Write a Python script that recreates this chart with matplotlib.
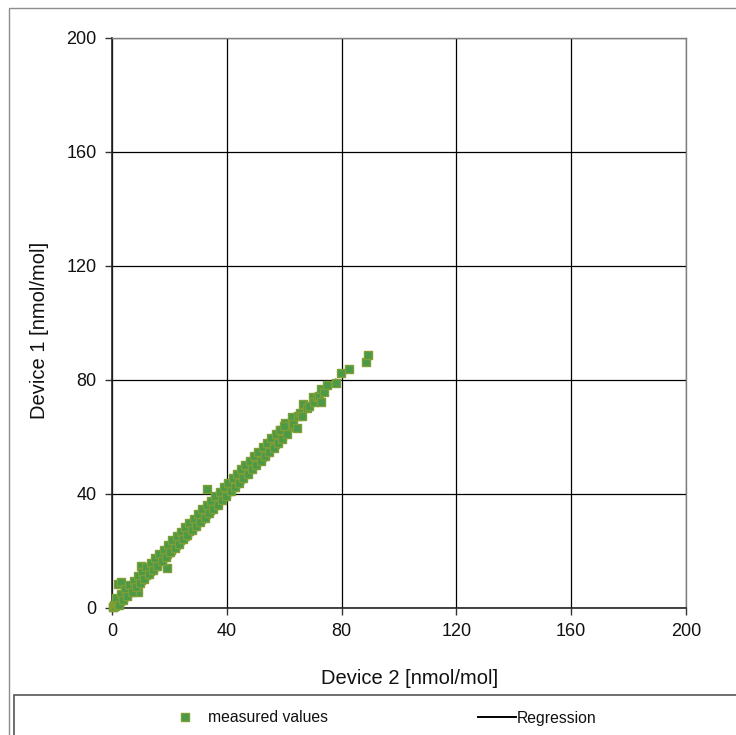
import numpy as np
import matplotlib
matplotlib.use("Agg")
import matplotlib.pyplot as plt
from matplotlib.patches import Rectangle
from matplotlib.lines import Line2D

plt.rcParams['font.family'] = ['Liberation Sans', 'DejaVu Sans']

# Device 2 (x) and Device 1 (y) values in nmol/mol
device2 = [0.2, 0.5, 0.8, 1.0, 1.3, 1.6, 2.0, 2.2, 2.5, 2.8, 3.1, 3.4, 3.7, 4.0, 4.3, 4.6, 5.0, 5.3, 5.6, 6.0,
           6.3, 6.6, 7.0, 7.3, 7.7, 8.0, 8.4, 8.8, 9.1, 9.5, 9.9,
           2.2, 3.0, 9.2, 10.1, 19.0, 33.0,
           10.2, 10.6, 11.0, 11.4, 11.8, 12.2, 12.6, 13.0, 13.4, 13.8, 14.2, 14.6, 15.0, 15.4, 15.8, 16.2, 16.6,
           17.0, 17.4, 17.8, 18.2, 18.6, 19.0, 19.4, 19.8,
           20.2, 20.6, 21.0, 21.4, 21.8, 22.2, 22.6, 23.0, 23.4, 23.8, 24.2, 24.6, 25.0, 25.4, 25.8, 26.2, 26.6,
           27.0, 27.4, 27.8, 28.2, 28.6, 29.0, 29.4, 29.8,
           30.2, 30.6, 31.0, 31.4, 31.8, 32.2, 32.6, 33.0, 33.4, 33.8, 34.2, 34.6, 35.0, 35.4, 35.8, 36.2, 36.6,
           37.0, 37.4, 37.8, 38.2, 38.6, 39.0, 39.4, 39.8,
           40.2, 40.6, 41.0, 41.4, 41.8, 42.2, 42.6, 43.0, 43.4, 43.8, 44.2, 44.6, 45.0, 45.4, 45.8, 46.2, 46.6,
           47.0, 47.4, 47.8, 48.2, 48.6, 49.0, 49.4, 49.8,
           50.3, 50.8, 51.3, 51.8, 52.3, 52.8, 53.3, 53.9, 54.4, 55.0, 55.6, 56.2, 56.8, 57.4, 58.0, 58.5, 59.2,
           60.3, 60.8, 61.5,
           62.6, 63.2, 64.4, 64.8, 65.5, 66.2, 66.7, 67.8, 68.8, 69.9, 70.5, 71.3, 72.0, 72.9, 72.9, 74.0, 75.0,
           78.0, 79.9, 82.7, 88.5, 89.2,
           1.5, 3.0, 4.5, 6.0, 7.5, 9.0, 10.5, 12.0, 13.5, 15.0, 16.5, 18.0, 19.5, 21.0, 22.5, 24.0, 25.5, 27.0,
           28.5, 30.0, 31.5, 33.0, 34.5, 36.0, 37.5, 39.0, 40.5, 42.0, 43.5, 45.0, 46.5, 48.0, 49.5, 51.0, 52.5,
           54.0, 55.5, 57.0, 58.5, 60.0,
           2.3, 3.8, 5.3, 6.8, 8.3, 9.8, 11.3, 12.8, 14.3, 15.8, 17.3, 18.8, 20.3, 21.8, 23.3, 24.8, 26.3, 27.8,
           29.3, 30.8, 32.3, 33.8, 35.3, 36.8, 38.3, 39.8, 41.3, 42.8, 44.3, 45.8, 47.3, 48.8, 50.3, 51.8, 53.3,
           54.8, 56.3, 57.8, 59.3, 61.0]
device1 = [0.3, 0.4, 1.0, 0.7, 1.6, 1.4, 2.3, 1.8, 2.9, 2.5, 3.4, 3.0, 4.1, 3.7, 4.6, 4.2, 5.3, 4.9, 6.0, 5.5,
           6.7, 6.2, 7.4, 6.9, 8.1, 7.6, 8.8, 8.3, 9.6, 9.0, 10.3,
           8.3, 9.0, 5.7, 14.6, 14.0, 41.6,
           10.0, 11.2, 10.8, 12.0, 11.6, 12.8, 12.3, 13.6, 13.1, 14.4, 13.9, 15.2, 14.8, 16.1, 15.6, 16.9, 16.4,
           17.7, 17.2, 18.6, 18.0, 19.4, 18.9, 20.2, 19.6,
           21.0, 20.5, 21.9, 21.3, 22.7, 22.1, 23.5, 22.9, 24.4, 23.7, 25.2, 24.5, 26.1, 25.3, 26.9, 26.2, 27.8,
           27.0, 28.6, 27.9, 29.5, 28.7, 30.3, 29.6, 31.1,
           30.4, 32.0, 31.2, 32.8, 32.1, 33.6, 32.9, 34.5, 33.7, 35.3, 34.5, 36.1, 35.4, 37.0, 36.2, 37.8, 37.0,
           38.7, 37.8, 39.5, 38.7, 40.3, 39.5, 41.2, 40.3,
           42.0, 41.1, 42.9, 41.9, 43.7, 42.8, 44.6, 43.6, 45.4, 44.4, 46.3, 45.2, 47.1, 46.1, 48.0, 46.9, 48.8,
           47.7, 49.6, 48.6, 50.4, 49.4, 51.3, 50.2, 52.1,
           51.3, 53.1, 52.2, 54.2, 53.1, 55.2, 54.1, 56.6, 55.3, 57.6, 56.5, 58.8, 57.7, 58.9, 60.5, 62.5, 60.4,
           64.8, 62.0, 63.6,
           66.9, 64.5, 63.1, 67.2, 68.3, 67.5, 71.6, 70.2, 71.0, 74.1, 72.4, 73.9, 74.5, 76.7, 72.3, 75.9, 78.2,
           79.1, 82.6, 83.8, 86.4, 88.8,
           3.4, 4.9, 6.5, 8.1, 9.6, 11.2, 12.7, 14.3, 15.9, 17.4, 19.0, 20.5, 22.1, 23.7, 25.2, 26.8, 28.3, 29.9,
           31.4, 33.0, 34.6, 36.1, 37.7, 39.2, 40.8, 42.4, 43.9, 45.5, 47.0, 48.6, 50.2, 51.7, 53.3, 54.8, 56.4,
           57.9, 59.5, 61.1, 62.5, 63.9,
           1.1, 2.7, 4.2, 5.7, 7.3, 8.8, 10.3, 11.9, 13.4, 14.9, 16.4, 18.0, 19.5, 21.0, 22.6, 24.1, 25.6, 27.2,
           28.7, 30.2, 31.7, 33.3, 34.8, 36.3, 37.9, 39.4, 40.9, 42.5, 44.0, 45.5, 47.0, 48.6, 50.1, 51.6, 53.2,
           54.7, 56.2, 57.8, 59.3, 61.0]

x_ticks = [0, 40, 80, 120, 160, 200]
y_ticks = [0, 40, 80, 120, 160, 200]

fig = plt.figure(figsize=(7.36, 7.35), dpi=100)
W, H = 736, 735

# outer frame
fig.patches.append(Rectangle((9 / W, -0.05), 2.0, 1 - 8 / H + 0.05, transform=fig.transFigure,
                             fill=False, edgecolor='#8c8c8c', linewidth=1.0))
# legend frame
fig.patches.append(Rectangle((14 / W, -0.05), 2.0, 1 - 695 / H + 0.05, transform=fig.transFigure,
                             fill=False, edgecolor='#555555', linewidth=1.2))

ax = fig.add_axes([112 / W, 1 - 608 / H, (686 - 112) / W, (608 - 38) / H])

x = np.array(device2)
y = np.array(device1)
slope, intercept = np.polyfit(x, y, 1)
xr = np.array([0, 78])
ax.plot(xr, slope * xr + intercept, color='black', linewidth=1.0, zorder=2)

ax.scatter(x, y, marker='s', s=27, facecolor='#4a9a48', edgecolor='#7f9f35', linewidths=1.0, zorder=3,
           clip_on=False)

ax.set_xlim(0, 200)
ax.set_ylim(0, 200)
ax.set_xticks(x_ticks)
ax.set_yticks(y_ticks)
ax.grid(True, color='black', linewidth=0.9)
ax.set_axisbelow(True)
for s in ['top', 'right']:
    ax.spines[s].set_color('#808080')
    ax.spines[s].set_linewidth(1.0)
for s in ['left', 'bottom']:
    ax.spines[s].set_color('#222222')
    ax.spines[s].set_linewidth(1.2)
ax.tick_params(direction='out', length=5, width=1, color='#333333', labelsize=13, pad=6,
               labelcolor='#111111')

fig.text(410 / W, 1 - 679 / H, 'Device 2 [nmol/mol]', fontsize=14.5, ha='center', va='center',
         color='#111111')
fig.text(40 / W, 1 - 330 / H, 'Device 1 [nmol/mol]', fontsize=14.5, ha='center', va='center',
         rotation=90, color='#111111')

# legend entries
fig.add_artist(Line2D([185 / W], [1 - 717 / H], marker='s', markersize=5.5, markerfacecolor='#4a9a48',
                      markeredgecolor='#7f9f35', linestyle='none', transform=fig.transFigure))
fig.text(208 / W, 1 - 718 / H, 'measured values', fontsize=11.3, va='center', ha='left',
         color='#111111')
fig.add_artist(Line2D([478 / W, 516 / W], [1 - 717 / H, 1 - 717 / H], color='black', linewidth=1.4,
                      transform=fig.transFigure))
fig.text(517 / W, 1 - 718 / H, 'Regression', fontsize=11.3, va='center', ha='left', color='#111111')

fig.savefig('out.png', dpi=100)
